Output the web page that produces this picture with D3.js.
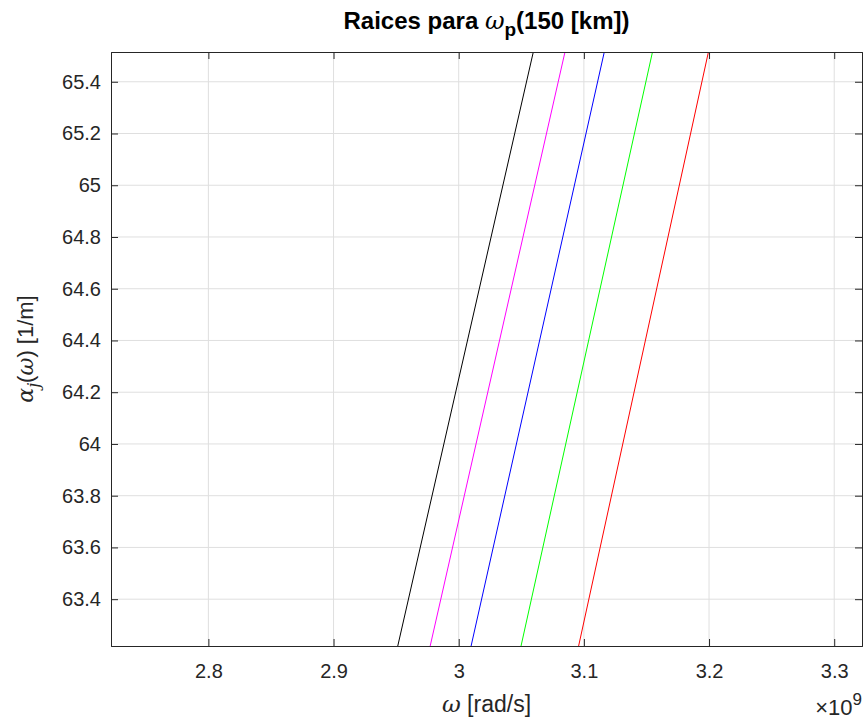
<!DOCTYPE html>
<html>
<head>
<meta charset="utf-8">
<script src="https://cdn.jsdelivr.net/npm/d3@7"></script>
<style>
  body { margin: 0; background: #fff; }
  svg { font-family: "Liberation Sans", Arial, sans-serif; }
</style>
</head>
<body>
<div id="chart"></div>
<script>
// frequency in units of 1e9 rad/s, root alpha_j in 1/m
const alphaEnds = [63.219, 65.515];
const blackOmega = [2.9513, 3.0596];
const magentaOmega = [2.9772, 3.0849];
const blueOmega = [3.0099, 3.1163];
const greenOmega = [3.0498, 3.1548];
const redOmega = [3.0958, 3.1995];
const xTicks = [2.8, 2.9, 3.0, 3.1, 3.2, 3.3];
const yTicks = [63.4, 63.6, 63.8, 64, 64.2, 64.4, 64.6, 64.8, 65, 65.2, 65.4];

const series = [
  { color: "#000000", omega: blackOmega },
  { color: "#ff00ff", omega: magentaOmega },
  { color: "#0000ff", omega: blueOmega },
  { color: "#00ff00", omega: greenOmega },
  { color: "#ff0000", omega: redOmega },
];

const width = 865, height = 724;
const margin = { top: 52, right: 3, bottom: 78, left: 111 };
const iw = width - margin.left - margin.right;
const ih = height - margin.top - margin.bottom;

const svg = d3.select("#chart").append("svg")
  .attr("width", width).attr("height", height);

const x = d3.scaleLinear().domain([2.7222, 3.3222]).range([0, iw]);
const y = d3.scaleLinear().domain([63.219, 65.515]).range([ih, 0]);

const g = svg.append("g").attr("transform", `translate(${margin.left},${margin.top})`);

// grid
g.append("g").selectAll("line").data(xTicks).join("line")
  .attr("x1", d => x(d)).attr("x2", d => x(d)).attr("y1", 0).attr("y2", ih)
  .attr("stroke", "#dfdfdf").attr("stroke-width", 1);
g.append("g").selectAll("line").data(yTicks).join("line")
  .attr("y1", d => y(d)).attr("y2", d => y(d)).attr("x1", 0).attr("x2", iw)
  .attr("stroke", "#dfdfdf").attr("stroke-width", 1);

svg.append("clipPath").attr("id", "clip").append("rect")
  .attr("width", iw).attr("height", ih);

const line = d3.line().x(d => x(d[0])).y(d => y(d[1]));
g.append("g").attr("clip-path", "url(#clip)")
  .selectAll("path").data(series).join("path")
  .attr("fill", "none").attr("stroke", d => d.color).attr("stroke-width", 1)
  .attr("d", d => line(d.omega.map((w, i) => [w, alphaEnds[i]])));

// axes (MATLAB-like box, inward ticks)
const axColor = "#262626";
const xb = g.append("g").attr("transform", `translate(0,${ih})`)
  .call(d3.axisBottom(x).tickValues(xTicks).tickSize(-7).tickPadding(18).tickFormat(d => d === 3 ? "3" : d3.format(".1f")(d)));
const xt = g.append("g")
  .call(d3.axisTop(x).tickValues(xTicks).tickSize(-7).tickFormat(""));
const yl = g.append("g")
  .call(d3.axisLeft(y).tickValues(yTicks).tickSize(-7).tickPadding(10).tickFormat(d => d3.format("")(+d.toFixed(1))));
const yr = g.append("g").attr("transform", `translate(${iw},0)`)
  .call(d3.axisRight(y).tickValues(yTicks).tickSize(-7).tickFormat(""));
[xb, xt, yl, yr].forEach(a => {
  a.select(".domain").attr("stroke", axColor);
  a.selectAll(".tick line").attr("stroke", axColor);
  a.selectAll("text").attr("fill", axColor).style("font-size", "20px")
    .style("font-family", "'Liberation Sans', Arial, sans-serif");
});

// title
const title = svg.append("text").attr("x", margin.left + iw / 2).attr("y", 29)
  .attr("text-anchor", "middle").attr("fill", "#000")
  .style("font-size", "24px").style("font-weight", "bold");
title.append("tspan").text("Raices para ");
title.append("tspan").text("ω").style("font-family", "'DejaVu Serif', serif").style("font-style", "italic").style("font-weight", "normal");
title.append("tspan").text("p").attr("dy", 7).style("font-size", "19px");
title.append("tspan").text("(150 [km])").attr("dy", -7);

// x label
const xl = svg.append("text").attr("x", margin.left + iw / 2).attr("y", 712)
  .attr("text-anchor", "middle").attr("fill", axColor).style("font-size", "23px");
xl.append("tspan").text("ω").style("font-family", "'DejaVu Serif', serif").style("font-style", "italic");
xl.append("tspan").text(" [rad/s]");

// exponent
const ex = svg.append("text").attr("x", 862).attr("y", 715)
  .attr("text-anchor", "end").attr("fill", axColor).style("font-size", "22px");
ex.append("tspan").text("×10");
ex.append("tspan").text("9").attr("dy", -10).style("font-size", "17px");

// y label
const ylab = svg.append("text")
  .attr("transform", `translate(33,${margin.top + ih / 2}) rotate(-90)`)
  .attr("text-anchor", "middle").attr("fill", axColor).style("font-size", "22px");
ylab.append("tspan").text("α").style("font-family", "'DejaVu Serif', serif").style("font-style", "italic");
ylab.append("tspan").text("j").attr("dy", 6).style("font-size", "16px").style("font-family", "'DejaVu Serif', serif").style("font-style", "italic");
ylab.append("tspan").text("(").attr("dy", -6);
ylab.append("tspan").text("ω").style("font-family", "'DejaVu Serif', serif").style("font-style", "italic");
ylab.append("tspan").text(") [1/m]");
</script>
</body>
</html>
